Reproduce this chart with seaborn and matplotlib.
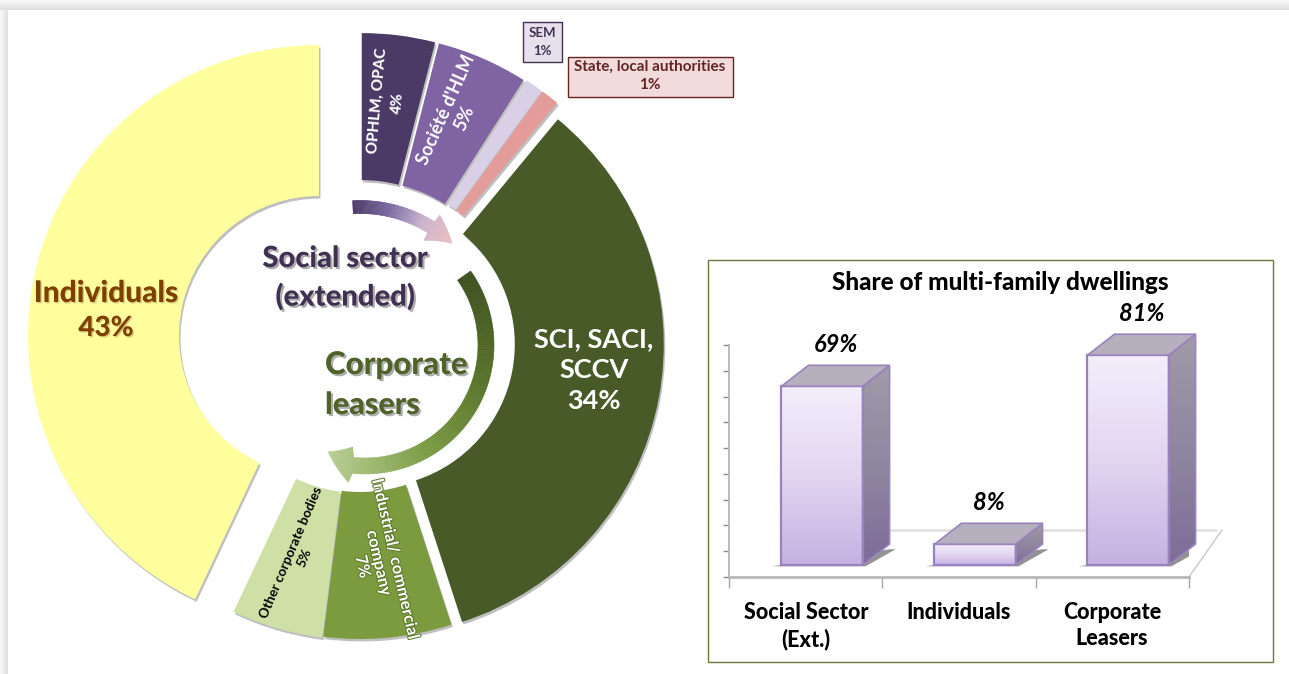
import numpy as np
import pandas as pd
import matplotlib
matplotlib.use("Agg")
import matplotlib.pyplot as plt
import matplotlib.patheffects as pe
from matplotlib.collections import PolyCollection
from matplotlib.colors import LinearSegmentedColormap
from matplotlib.patches import Polygon, Rectangle
import seaborn as sns

# donut data, clockwise from 12 o'clock
owner_labels = ["OPHLM, OPAC", "Société d'HLM", "SEM", "State, local authorities",
                "SCI, SACI, SCCV", "Industrial/ commercial company",
                "Other corporate bodies", "Individuals"]
owner_shares = [4, 5, 1, 1, 34, 7, 5, 43]
owner_colors = ["#4B3A66", "#7F63A3", "#D9D0E8", "#E39C9A",
                "#475A27", "#7B9B3E", "#CFE0A6", "#FFFF9E"]
owner_explode = [14, 14, 15, 15, 12, 2, 3, 42]

# bar data
group_labels = ["Social Sector\n(Ext.)", "Individuals", "Corporate\nLeasers"]
multi_family_share = [69, 8, 81]

W, H = 1289, 674
CENTER = (360, 342)
RADIUS = 295
RING = 147

sns.set_theme(style="white")
plt.rcParams["font.family"] = ["Lato", "DejaVu Sans"]
plt.rcParams["font.weight"] = "bold"

fig = plt.figure(figsize=(W / 100, H / 100), dpi=100, facecolor="white")

# pixel canvas for everything but the bars
bg = fig.add_axes([0, 0, 1, 1])

# page shadow
fade = LinearSegmentedColormap.from_list("fade", ["#FAFAFA", "#DEDEDE"])
ramp = np.linspace(0, 1, 64)
bg.imshow(ramp.reshape(-1, 1), extent=(0, W, 10, 0), cmap=fade, aspect="auto", origin="upper")
bg.imshow(ramp.reshape(1, -1), extent=(0, 8, H, 10), cmap=fade, aspect="auto")

# soft shadow then the ring itself
shadow_wedges, _ = bg.pie(owner_shares, explode=owner_explode, startangle=-90, counterclock=True,
                          center=(CENTER[0] + 1.5, CENTER[1] + 2.5), radius=RADIUS, frame=True,
                          colors=["#8C8C8C"] * len(owner_shares),
                          wedgeprops=dict(width=RING, linewidth=0, alpha=0.55))
wedges, _ = bg.pie(owner_shares, explode=owner_explode, startangle=-90, counterclock=True,
                   center=CENTER, radius=RADIUS, frame=True, colors=owner_colors,
                   wedgeprops=dict(width=RING, linewidth=0))

# the big slices are a touch smaller than the rest in the original
for group, off in ((wedges, (0, 0)), (shadow_wedges, (1.5, 2.5))):
    group[-1].set_center((319 + off[0], 336 + off[1]))
    group[-1].set_radius(291)
    group[-1].set_width(151)
    group[4].set_radius(292)
    group[4].set_width(149)

bg.set_xlim(0, W)
bg.set_ylim(H, 0)
bg.set_axis_off()


def curved_arrow(cx, cy, r, band, head_w, a0, a_head, a1, stops, tip_dr=0):
    # angles in degrees clockwise from north
    cmap = LinearSegmentedColormap.from_list("arrow", stops)
    angles = np.linspace(a0, a1, 120)
    quads, cols = [], []
    half, mid = [], []
    for a in angles:
        if a < a_head:
            half.append(band / 2)
            mid.append(r)
        else:
            p = (a - a_head) / (a1 - a_head)
            half.append(head_w / 2 * (1 - p))
            mid.append(r - tip_dr * p)
    for i in range(len(angles) - 1):
        t0, t1 = np.radians(angles[i]), np.radians(angles[i + 1])
        r0, r1 = mid[i], mid[i + 1]
        quads.append([
            (cx + (r0 - half[i]) * np.sin(t0), cy - (r0 - half[i]) * np.cos(t0)),
            (cx + (r0 + half[i]) * np.sin(t0), cy - (r0 + half[i]) * np.cos(t0)),
            (cx + (r1 + half[i + 1]) * np.sin(t1), cy - (r1 + half[i + 1]) * np.cos(t1)),
            (cx + (r1 - half[i + 1]) * np.sin(t1), cy - (r1 - half[i + 1]) * np.cos(t1)),
        ])
        cols.append(cmap(i / (len(angles) - 2)))
    bg.add_collection(PolyCollection(quads, facecolors=cols, edgecolors=cols, linewidths=0.4, zorder=4))


curved_arrow(360, 342, 135, 13, 30, -3, 32, 43, ["#4B3A66", "#7A68A0", "#C9B4D0", "#EBC0BE"])
curved_arrow(365, 345, 121, 16, 38, 55, 186, 199, ["#3F5020", "#567029", "#7C9C44", "#B9CF96"], tip_dr=8)

# text inside the ring
glow = [pe.withSimplePatchShadow(offset=(1.5, -1.5), shadow_rgbFace="#8A8A8A", alpha=0.7)]
soft = [pe.withSimplePatchShadow(offset=(1, -1), shadow_rgbFace="#B0A060", alpha=0.5)]
bg.text(106, 293, "Individuals", color="#7F3F00", fontsize=21.5, fontweight="black", ha="center", va="center", path_effects=soft)
bg.text(106, 328, "43%", color="#7F3F00", fontsize=20, fontweight="black", ha="center", va="center", path_effects=soft)
bg.text(594, 370, "SCI, SACI,\nSCCV\n34%", color="white", fontsize=19.5, ha="center", va="center", linespacing=1.35, zorder=5)
bg.text(345, 259, "Social sector", color="#403152", fontsize=21, fontweight="black", ha="center", va="center", path_effects=glow, zorder=5)
bg.text(345, 297, "(extended)", color="#403152", fontsize=21, fontweight="black", ha="center", va="center", path_effects=glow, zorder=5)
bg.text(325, 365, "Corporate", color="#4F6228", fontsize=22.5, fontweight="black", ha="left", va="center", path_effects=glow, zorder=5)
bg.text(325, 405, "leasers", color="#4F6228", fontsize=22, fontweight="black", ha="left", va="center", path_effects=glow, zorder=5)

bg.text(388, 102, "OPHLM, OPAC\n4%", color="white", fontsize=11, fontweight="black", rotation=85, ha="center", va="center", rotation_mode="anchor", zorder=5, linespacing=1.6)
bg.text(455, 114, "Société d'HLM\n5%", color="white", fontsize=13, rotation=66, ha="center", va="center", rotation_mode="anchor", zorder=5, linespacing=1.25)
bg.text(298, 555, "Other corporate bodies\n5%", color="black", fontsize=9.7, rotation=67, ha="center", va="center", rotation_mode="anchor", zorder=5, linespacing=1.2)
outline = [pe.withStroke(linewidth=1.5, foreground="#5F7A2E")]
bg.text(378, 563, owner_labels[5].replace(" company", "\ncompany") + "\n7%", color="white", fontsize=11.8, rotation=-77,
        ha="center", va="center", rotation_mode="anchor", path_effects=outline, zorder=5, linespacing=1.25)

# small callouts
bg.add_patch(Rectangle((523, 22), 39, 40, facecolor="#E6E0EC", edgecolor="#403152", linewidth=1, zorder=5))
bg.text(542.5, 42, "SEM\n1%", color="#403152", fontsize=9.5, ha="center", va="center", linespacing=1.6, zorder=6)
bg.add_patch(Rectangle((568, 57), 165, 40, facecolor="#F2DCDB", edgecolor="#632523", linewidth=1, zorder=5))
bg.text(650, 76, "State, local authorities\n1%", color="#632523", fontsize=11, ha="center", va="center", linespacing=1.35, zorder=6)

# right hand panel
bg.add_patch(Rectangle((708, 260), 565, 402, facecolor="white", edgecolor="#6B7A3A", linewidth=1, zorder=1))
bg.text(1000, 282, "Share of multi-family dwellings", color="black", fontsize=17.5, fontweight="black", ha="center", va="center", zorder=2)
bg.plot([890, 1216], [530, 530], color="#E2E2E2", lw=2, zorder=2)
bg.plot([1189, 1222], [577, 530], color="#C8C8C8", lw=1, zorder=2)

# bars
AX_L, AX_R, AX_T, AX_B = 729, 1189, 345, 577
PX_PER_CAT = 153
PX_PER_UNIT = 2.59
ax = fig.add_axes([AX_L / W, 1 - AX_B / H, (AX_R - AX_L) / W, (AX_B - AX_T) / H])
ax.patch.set_alpha(0)

df = pd.DataFrame({"group": group_labels, "share": multi_family_share})
sns.barplot(data=df, x="group", y="share", color="#D9CBEE", width=0.53, ax=ax, zorder=3)

x_min = (AX_L - 822) / PX_PER_CAT
x_max = (AX_R - 822) / PX_PER_CAT
y_min = -(AX_B - 565) / PX_PER_UNIT
y_max = y_min + (AX_B - AX_T) / PX_PER_UNIT

dx = 27 / PX_PER_CAT
dy = 21 / PX_PER_UNIT
edge = "#9A82BE"
front_map = LinearSegmentedColormap.from_list("front", ["#F3EEFB", "#E2D6F1", "#C5B1E2"])
side_map = LinearSegmentedColormap.from_list("side", ["#A09AA8", "#8F879F", "#7E6C99"])
column = np.linspace(0, 1, 128).reshape(-1, 1)

for bar in list(ax.patches):
    x0, x1 = bar.get_x(), bar.get_x() + bar.get_width()
    h = bar.get_height()

    # floor shadow
    ax.add_patch(Polygon([(x0 - 0.06, -0.5), (x1 + 0.02, -0.5), (x1 + dx + 0.04, dy * 0.75), (x1 + dx, dy * 0.75)],
                         facecolor="#666666", edgecolor="none", alpha=0.7, zorder=1))

    # front face
    im = ax.imshow(column, extent=(x0, x1, 0, h), cmap=front_map, aspect="auto", zorder=3.5)
    im.set_clip_path(bar)
    bar.set_facecolor("none")
    bar.set_edgecolor(edge)
    bar.set_linewidth(1.6)
    bar.set_zorder(4)

    # side and top faces, the last side runs past the axes
    side = Polygon([(x1, 0), (x1 + dx, dy), (x1 + dx, h + dy), (x1, h)], facecolor="none", edgecolor=edge, linewidth=1.2, zorder=4, clip_on=False)
    ax.add_patch(side)
    im2 = ax.imshow(column, extent=(x1, x1 + dx, 0, h + dy), cmap=side_map, aspect="auto", zorder=3.5)
    im2.set_clip_box(fig.bbox)
    im2.set_clip_path(side)
    ax.add_patch(Polygon([(x0, h), (x1, h), (x1 + dx, h + dy), (x0 + dx, h + dy)], facecolor="#B6AFBD",
                         edgecolor=edge, linewidth=1.2, zorder=4, clip_on=False))

for i, v in enumerate(multi_family_share):
    ax.text(i + 0.09, v + 16, f"{v}%", fontsize=17, fontstyle="italic", color="black", ha="center", va="center", zorder=6)

ax.set_xlim(x_min, x_max)
ax.set_ylim(y_min, y_max)
ax.set_xlabel("")
ax.set_ylabel("")
ax.set_xticks([i - 16 / PX_PER_CAT for i in range(3)])
ax.set_xticklabels(group_labels, fontsize=15.5, fontweight="black", color="black", linespacing=1.3)
ax.set_xticks([x_min + (x_max - x_min) * k / 3 for k in range(4)], minor=True)
ax.set_yticks(np.linspace(y_min, y_max, 10))
ax.set_yticklabels([])
ax.tick_params(axis="x", which="major", length=0, pad=18)
ax.tick_params(axis="x", which="minor", length=8, width=1, color="#A8A8A8", bottom=True)
ax.tick_params(axis="y", length=4, width=1, color="#8C8C8C", left=True)
sns.despine(ax=ax, top=True, right=True)
ax.spines["left"].set_color("#B4B4B4")
ax.spines["bottom"].set_color("#B8B8B8")
ax.spines["bottom"].set_linewidth(2)

fig.savefig("out.png", dpi=100)
